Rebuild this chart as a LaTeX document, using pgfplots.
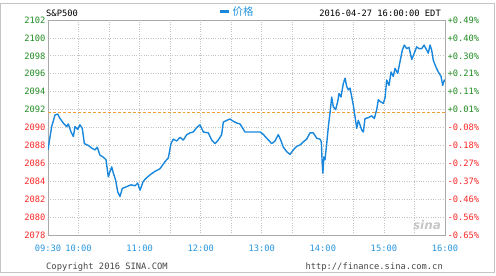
\documentclass[border=0pt]{standalone}
\usepackage{pgfplots}
\pgfplotsset{compat=1.18}
\usepackage{fontspec}
\setmainfont{DejaVu Sans Mono}
\newfontfamily\cjk{Noto Sans CJK SC}
\newfontfamily\sansb{DejaVu Sans}
\definecolor{tgreen}{RGB}{34,140,34}
\definecolor{tred}{RGB}{250,40,40}
\definecolor{tblue}{RGB}{40,150,225}
\definecolor{lblue}{RGB}{25,135,220}
\definecolor{dorange}{RGB}{240,160,50}
\definecolor{framegray}{RGB}{170,170,170}
\definecolor{gridgray}{RGB}{195,195,195}
\definecolor{txtgray}{RGB}{70,70,70}
\pgfplotstableread{
t v
0 2087.5
3.6 2090.1
6.9 2091.4
9.5 2091.5
11.8 2091.0
15.0 2090.5
18.4 2090.1
19.9 2090.4
22.6 2089.5
24.9 2089.0
26.5 2090.1
29.2 2089.8
31.4 2090.3
33.7 2089.9
35.7 2088.2
39.6 2088.0
42.9 2087.7
46.2 2087.5
48.4 2087.8
51.1 2086.9
54.3 2086.7
57.0 2086.4
59.2 2084.5
60.9 2085.1
62.6 2085.6
64.2 2084.9
66.5 2084.1
68.5 2082.8
70.7 2082.3
73.0 2083.2
77.3 2083.4
81.5 2083.6
85.5 2083.5
88.1 2083.8
90.4 2083.0
93.6 2084.0
97.0 2084.4
101.2 2084.8
105.1 2085.1
110.0 2085.4
115.0 2086.2
118.2 2086.6
120.8 2088.2
123.1 2088.7
126.4 2088.5
129.7 2088.9
132.9 2088.6
136.3 2089.2
139.5 2089.4
142.7 2089.5
146.1 2090.0
149.3 2090.3
152.6 2089.5
157.5 2089.4
160.8 2088.6
164.1 2088.2
167.3 2088.6
170.6 2089.2
172.2 2090.6
175.6 2090.8
178.8 2090.95
182.0 2090.7
185.4 2090.5
188.6 2090.4
190.3 2090.1
193.5 2089.5
198.4 2089.5
203.4 2089.5
208.3 2089.5
210.9 2089.3
214.9 2088.8
219.8 2088.2
223.0 2088.5
226.2 2089.2
228.6 2088.6
231.2 2087.8
234.5 2087.3
237.7 2087.0
241.0 2087.5
244.3 2087.9
247.6 2088.05
250.8 2088.4
254.1 2088.7
257.4 2089.4
260.6 2089.4
264.0 2088.8
267.2 2088.7
268.5 2088.4
269.3 2086.2
270.0 2084.9
271.0 2086.7
272.1 2086.4
273.8 2088.2
275.4 2090.1
277.0 2091.6
278.7 2093.4
280.3 2092.3
282.6 2092.0
284.6 2092.9
285.9 2093.8
287.8 2093.4
290.1 2094.9
291.8 2095.5
293.4 2094.6
295.0 2094.2
296.7 2094.4
298.4 2093.4
299.9 2092.5
301.6 2091.2
303.3 2089.9
304.8 2090.8
306.5 2090.3
308.2 2089.7
309.8 2089.5
311.4 2091.0
314.7 2091.1
318.0 2091.3
320.6 2091.0
322.9 2092.0
324.5 2093.1
326.2 2092.9
329.4 2092.7
331.1 2093.3
332.7 2095.3
335.0 2094.7
337.0 2096.2
339.2 2095.7
340.9 2096.6
343.5 2096.05
345.8 2097.35
348.1 2098.65
350.0 2099.2
352.4 2098.8
354.6 2098.95
357.3 2097.6
359.8 2098.3
362.2 2099.0
364.5 2098.8
367.1 2098.8
369.4 2099.2
372.0 2098.65
373.6 2098.3
375.3 2099.2
376.9 2098.65
378.5 2097.5
380.9 2096.8
383.4 2096.2
386.1 2095.7
387.7 2094.7
389.3 2095.3
390 2095.15
}\spx
\begin{document}
\begin{tikzpicture}[x=1bp,y=1bp]
\useasboundingbox (0,0) rectangle (496,275);
\draw[framegray!70, line width=0.8bp] (0.5,3) rectangle (494,272);
\begin{axis}[
  at={(48bp,40bp)}, anchor=south west,
  scale only axis, width=397bp, height=215bp,
  xmin=0, xmax=390, ymin=2078, ymax=2102,
  axis line style={framegray, line width=0.8bp},
  xtick={0,30,...,390},
  xticklabels={09:30,10:00,,11:00,,12:00,,13:00,,14:00,,15:00,,16:00},
  ytick={2078,2080,...,2102},
  yticklabels={\textcolor{tred}{2078},\textcolor{tred}{2080},\textcolor{tred}{2082},\textcolor{tred}{2084},\textcolor{tred}{2086},\textcolor{tred}{2088},\textcolor{tred}{2090},\textcolor{tgreen}{2092},\textcolor{tgreen}{2094},\textcolor{tgreen}{2096},\textcolor{tgreen}{2098},\textcolor{tgreen}{2100},\textcolor{tgreen}{2102}},
  major tick length=0pt,
  grid=major,
  major grid style={gridgray, dotted, line width=0.7bp},
  xticklabel style={font=\fontsize{8.8}{10}\selectfont, text=tblue, yshift=-6bp},
  yticklabel style={font=\fontsize{8.8}{10}\selectfont, xshift=1bp},
  legend style={at={(0.428,1.0)}, anchor=south west, draw=none, fill=none,
    font=\cjk\fontsize{10.5}{11}\selectfont, text=tblue, inner sep=1bp,
    legend cell align=left},
  legend image code/.code={\draw[lblue, line width=2.6bp] (0bp,0bp) -- (9bp,0bp);},
]
\addplot[dorange, densely dashed, line width=0.8bp, forget plot] coordinates {(0,2091.7) (390,2091.7)};
\addplot[lblue, line width=1.4bp, line join=round] table[x=t, y=v] {\spx};
\addlegendentry{价格}
\end{axis}
\begin{axis}[
  at={(48bp,40bp)}, anchor=south west,
  scale only axis, width=397bp, height=215bp,
  xmin=0, xmax=390, ymin=2078, ymax=2102,
  axis y line*=right, axis x line=none,
  axis line style={framegray, line width=0.8bp},
  major tick length=0pt,
  ytick={2078,2080,...,2102},
  yticklabels={\textcolor{tred}{-0.65\%},\textcolor{tred}{-0.56\%},\textcolor{tred}{-0.46\%},\textcolor{tred}{-0.37\%},\textcolor{tred}{-0.27\%},\textcolor{tred}{-0.18\%},\textcolor{tred}{-0.08\%},\textcolor{tgreen}{+0.01\%},\textcolor{tgreen}{+0.11\%},\textcolor{tgreen}{+0.21\%},\textcolor{tgreen}{+0.30\%},\textcolor{tgreen}{+0.40\%},\textcolor{tgreen}{+0.49\%}},
  yticklabel style={font=\fontsize{8.8}{10}\selectfont, xshift=-1bp},
]
\end{axis}
\node[anchor=west, font=\fontsize{8.8}{10}\selectfont, inner sep=0] at (46,261.5) {S\&P500};
\node[anchor=east, font=\fontsize{8.8}{10}\selectfont, inner sep=0] at (441,261.5) {2016-04-27 16:00:00 EDT};
\node[anchor=west, font=\fontsize{8.8}{10}\selectfont, text=txtgray, inner sep=0] at (46,8) {Copyright 2016 SINA.COM};
\node[anchor=east, font=\fontsize{8.8}{10}\selectfont, text=txtgray, inner sep=0] at (443,8) {http://finance.sina.com.cn};
\node[font=\sansb\bfseries\itshape\fontsize{12}{12}\selectfont, text=gray!45, inner sep=0] at (427,50) {sina};
\end{tikzpicture}
\end{document}
